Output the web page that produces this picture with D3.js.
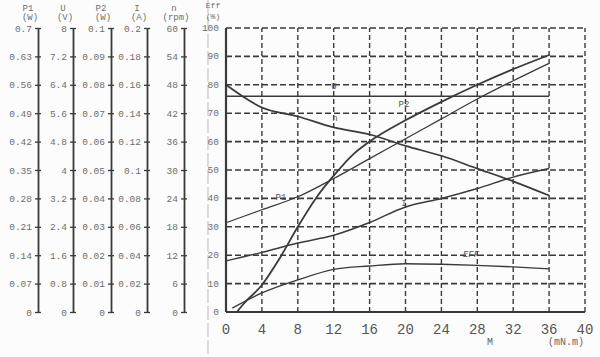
<!DOCTYPE html>
<html>
<head>
<meta charset="utf-8">
<script src="https://cdn.jsdelivr.net/npm/d3@7"></script>
<style>
  body { margin: 0; background: #fcfcfc; }
  text { font-family: "Liberation Mono", "DejaVu Sans Mono", monospace; }
</style>
</head>
<body>
<script>
// torque steps (mN.m) shared by most curves
var torque      = [0, 4, 8, 12, 16, 20, 24, 28, 32, 36];
var voltage     = [6.08, 6.08, 6.08, 6.08, 6.08, 6.08, 6.08, 6.08, 6.08, 6.08];
var speed       = [48, 43.2, 41.3, 39, 37.5, 35.1, 33, 30.3, 27.6, 24.6];
var inputPower  = [0.22, 0.252, 0.284, 0.329, 0.378, 0.427, 0.476, 0.525, 0.57, 0.613];
var current     = [0.036, 0.042, 0.0486, 0.054, 0.063, 0.074, 0.08, 0.087, 0.095, 0.101];

var outTorque   = [1.2, 2, 4, 6, 8, 10, 12, 14, 16, 20, 24, 28, 32, 36];
var outputPower = [0, 0.003, 0.0095, 0.019, 0.03, 0.04, 0.048, 0.055, 0.06, 0.0675, 0.074, 0.08, 0.0855, 0.0905];

var effTorque   = [0.7, 4, 8, 12, 16, 20, 24, 28, 32, 36];
var efficiency  = [1.4, 6.7, 11.3, 15, 16.2, 17, 16.8, 16.4, 15.9, 15.2];

// left scales
var p1Ticks  = ["0", "0.07", "0.14", "0.21", "0.28", "0.35", "0.42", "0.49", "0.56", "0.63", "0.7"];
var uTicks   = ["0", "0.8", "1.6", "2.4", "3.2", "4", "4.8", "5.6", "6.4", "7.2", "8"];
var p2Ticks  = ["0", "0.01", "0.02", "0.03", "0.04", "0.05", "0.06", "0.07", "0.08", "0.09", "0.1"];
var iTicks   = ["0", "0.02", "0.04", "0.06", "0.08", "0.1", "0.12", "0.14", "0.16", "0.18", "0.2"];
var nTicks   = ["0", "6", "12", "18", "24", "30", "36", "42", "48", "54", "60"];
var effTicks = ["0", "10", "20", "30", "40", "50", "60", "70", "80", "90", "100"];
var mTicks   = [0, 4, 8, 12, 16, 20, 24, 28, 32, 36, 40];

var W = 600, H = 357;
var yTop = 28, yBottom = 312;

var svg = d3.select("body")
      .append("svg")
      .attr("width", W)
      .attr("height", H)

var x = d3.scaleLinear().domain([0, 40]).range([226, 585]);
var y = d3.scaleLinear().domain([0, 100]).range([yBottom, yTop]);

var ink = "#3a3a3a", faint = "#6e6e6e";

// scan artifact line left of the eff labels
svg.append("line").attr("x1", 208).attr("x2", 208).attr("y1", 0).attr("y2", 357)
  .attr("stroke", "#bbb").attr("stroke-width", 1).attr("stroke-dasharray", "14,3");

// left axes
var axes = [
  {name: "P1", unit: "(W)",   px: 38,  max: 0.7, ticks: p1Ticks},
  {name: "U",  unit: "(V)",   px: 73,  max: 8,   ticks: uTicks},
  {name: "P2", unit: "(W)",   px: 111, max: 0.1, ticks: p2Ticks},
  {name: "I",  unit: "(A)",   px: 147, max: 0.2, ticks: iTicks},
  {name: "n",  unit: "(rpm)", px: 184, max: 60,  ticks: nTicks}
];

axes.forEach(function(a) {
  a.scale = d3.scaleLinear().domain([0, a.max]).range([yBottom, yTop]);
  var g = svg.append("g").attr("transform", "translate(" + a.px + ",0)");
  g.call(d3.axisLeft(a.scale)
      .tickValues(a.ticks.map(Number))
      .tickFormat(function(d, i) { return a.ticks[i]; })
      .tickSize(3).tickSizeOuter(0).tickPadding(3));
  g.select(".domain").attr("stroke", ink).attr("stroke-width", 1.8);
  g.selectAll(".tick line").attr("x1", 3).attr("stroke", ink).attr("stroke-width", 1.3);
  g.selectAll(".tick text").attr("fill", faint).style("font-size", "9.5px")
    .style("font-family", "'Liberation Mono', monospace");
  svg.append("text").attr("x", a.px - 10).attr("y", 11).attr("text-anchor", "middle")
    .attr("fill", faint).style("font-size", "9px").text(a.name);
  svg.append("text").attr("x", a.px - 8).attr("y", 20).attr("text-anchor", "middle")
    .attr("fill", faint).style("font-size", "9px").text(a.unit);
});

svg.append("text").attr("x", 213).attr("y", 8).attr("text-anchor", "middle")
  .attr("fill", faint).style("font-size", "8px").text("Eff");
svg.append("text").attr("x", 213).attr("y", 19).attr("text-anchor", "middle")
  .attr("fill", faint).style("font-size", "8px").text("(%)");

svg.append("g").selectAll("text")
  .data(effTicks).enter().append("text")
  .attr("x", 219).attr("y", function(d) { return y(+d) + 3; })
  .attr("text-anchor", "end").attr("fill", faint).style("font-size", "9.5px")
  .text(function(d) { return d; });

// grid
var grid = svg.append("g").attr("stroke", ink).attr("stroke-width", 1.6)
  .attr("stroke-dasharray", "6,3").attr("fill", "none");
grid.selectAll(".h").data(effTicks.slice(1).map(Number)).enter().append("line")
  .attr("x1", x(0)).attr("x2", x(40))
  .attr("y1", function(d) { return y(d); }).attr("y2", function(d) { return y(d); });
grid.selectAll(".v").data(mTicks.slice(1)).enter().append("line")
  .attr("y1", y(0)).attr("y2", y(100))
  .attr("x1", function(d) { return x(d); }).attr("x2", function(d) { return x(d); })
  .attr("stroke-dasharray", "5,3").attr("stroke-width", 1.4);

svg.append("line").attr("x1", x(0)).attr("x2", x(0)).attr("y1", y(0)).attr("y2", y(100))
  .attr("stroke", ink).attr("stroke-width", 2.2);
svg.append("line").attr("x1", x(0)).attr("x2", x(40)).attr("y1", y(0)).attr("y2", y(0))
  .attr("stroke", ink).attr("stroke-width", 2.2);

// x tick labels
svg.append("g").selectAll("text").data(mTicks).enter().append("text")
  .attr("x", function(d) { return x(d); }).attr("y", 334)
  .attr("text-anchor", "middle").attr("fill", "#555").style("font-size", "14px")
  .text(function(d) { return d; });
svg.append("text").attr("x", 490).attr("y", 345).attr("text-anchor", "middle")
  .attr("fill", "#666").style("font-size", "10px").text("M");
svg.append("text").attr("x", 566).attr("y", 345).attr("text-anchor", "middle")
  .attr("fill", "#666").style("font-size", "10px").text("(mN.m)");

// curves
var uAx = axes[1], nAx = axes[4], p1Ax = axes[0], p2Ax = axes[2], iAx = axes[3];

function drawCurve(xs, vals, sc, w) {
  var pts = xs.map(function(m, i) { return [x(m), sc(vals[i])]; });
  svg.append("path").datum(pts)
    .attr("d", d3.line().curve(d3.curveMonotoneX))
    .attr("fill", "none").attr("stroke", ink).attr("stroke-width", w);
}

drawCurve(torque, voltage, uAx.scale, 1.5);
drawCurve(torque, speed, nAx.scale, 1.7);
drawCurve(torque, inputPower, p1Ax.scale, 1.3);
drawCurve(outTorque, outputPower, p2Ax.scale, 1.8);
drawCurve(torque, current, iAx.scale, 1.5);
drawCurve(effTorque, efficiency, y, 1.4);

// curve labels
var labels = [
  {t: "U",   x: 334, y: 89},
  {t: "n",   x: 335, y: 121},
  {t: "P2",  x: 404, y: 107},
  {t: "P1",  x: 281, y: 200},
  {t: "I",   x: 404, y: 206},
  {t: "EFF", x: 471, y: 257}
];
svg.append("g").selectAll("text").data(labels).enter().append("text")
  .attr("x", function(d) { return d.x; }).attr("y", function(d) { return d.y; })
  .attr("text-anchor", "middle").attr("fill", "#555").style("font-size", "9px")
  .style("font-style", function(d) { return d.t == "EFF" ? "italic" : "normal"; })
  .text(function(d) { return d.t; });
</script>
</body>
</html>
